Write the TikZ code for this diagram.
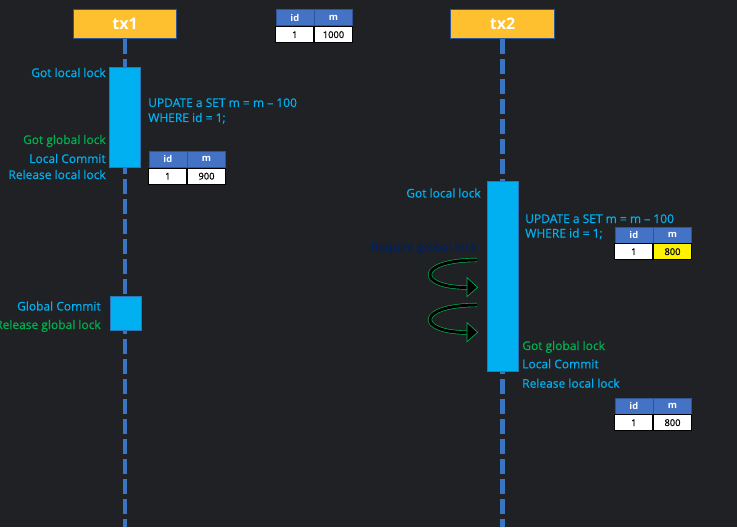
\documentclass[tikz,border=0pt]{standalone}
\usepackage{fontspec}
\setmainfont{Open Sans}
\newfontfamily\lblfont{Open Sans}[FakeBold=0.6, Ligatures=TeX]
\usepackage{xcolor}
\usetikzlibrary{arrows.meta,positioning,calc}

\definecolor{bgdark}{RGB}{32,33,36}
\definecolor{txorange}{RGB}{255,192,47}
\definecolor{txborder}{RGB}{47,85,151}
\definecolor{lifeblue}{RGB}{58,117,196}
\definecolor{barcyan}{RGB}{0,176,240}
\definecolor{barborder}{RGB}{46,117,182}
\definecolor{okgreen}{RGB}{0,176,80}
\definecolor{navytext}{RGB}{0,32,96}
\definecolor{headblue}{RGB}{68,114,196}

\tikzset{
  txbox/.style={draw=txborder, fill=txorange, line width=0.75pt, minimum width=77.5pt, minimum height=21.75pt,
    text=white, font=\fontsize{12}{14}\selectfont\bfseries, inner sep=0pt},
  lifeline/.style={draw=lifeblue, line width=3.4pt, dash pattern=on 11.25pt off 3.75pt},
  actbar/.style={draw=barborder, fill=barcyan, line width=0.75pt},
  cyanlbl/.style={text=barcyan, font=\lblfont\fontsize{9}{11}\selectfont, inner sep=0pt},
  greenlbl/.style={cyanlbl, text=okgreen},
  thead/.style={draw=txborder, fill=headblue, text=white, font=\fontsize{7}{8}\selectfont\bfseries,
    minimum width=28.5pt, minimum height=12pt, inner sep=0pt, line width=0.5pt},
  tcell/.style={draw=black, fill=white, text=black, font=\lblfont\fontsize{7}{8}\selectfont,
    minimum width=28.5pt, minimum height=12pt, inner sep=0pt, line width=0.75pt},
  spinarrow/.style={draw=okgreen, double=black, double distance=2.2pt, line width=0.5pt},
}

% 两行两列的小表：名字, x, y, m 的值, 底色
\newcommand{\rowtable}[5]{%
  \node[thead, anchor=north west] (#1id) at (#2,#3) {id};
  \node[thead, anchor=north west] (#1m) at (#1id.north east) {m};
  \node[tcell, anchor=north] (#1one) at (#1id.south) {1};
  \node[tcell, anchor=north, fill=#5] (#1val) at (#1m.south) {#4};
}

\begin{document}
\begin{tikzpicture}[x=0.75pt, y=-0.75pt]
    % 背景
    \fill[bgdark] (0,0) rectangle (737,527);
    \useasboundingbox (0,0) rectangle (737,527);

    % 两个事务和生命线
    \node[txbox] (tx1) at (125,23.8) {tx1};
    \node[txbox] (tx2) at (502.5,23.8) {tx2};
    \coordinate (end1) at (125,527);
    \coordinate (end2) at (502.5,527);
    \draw[lifeline] (tx1.south) -- (end1);
    \draw[lifeline] (tx2.south) -- (end2);

    % 初始数据
    \rowtable{tinit}{275.5}{9.5}{1000}{white}

    % tx1 的本地事务
    \draw[actbar] (109.5,67.3) rectangle (140.7,167.3);
    \node[cyanlbl, anchor=base east] (lockA) at (106,77) {Got local lock};
    \node[greenlbl, anchor=base east] (globA) at (106,144) {Got global lock};
    \node[cyanlbl, anchor=base east] (commitA) at (106,163) {Local Commit};
    \node[cyanlbl, anchor=base east] (releaseA) at (106,179) {Release local lock};
    \node[cyanlbl, anchor=base west] (sqlA) at (148,107) {UPDATE a SET m = m -- 100};
    \node[cyanlbl, anchor=base west] (whereA) at (148,122) {WHERE id = 1;};
    \rowtable{tone}{148.5}{151}{900}{white}

    % tx1 全局提交
    \draw[actbar] (110,296.7) rectangle (141.5,330.7);
    \node[cyanlbl, anchor=base east] (gcommitA) at (101,310.5) {Global Commit};
    \node[greenlbl, anchor=base east] (greleaseA) at (101,329) {Release global lock};

    % tx2 的本地事务
    \draw[actbar] (487.3,181.7) rectangle (518.7,371.7);
    \node[cyanlbl, anchor=base east] (lockB) at (481,197.5) {Got local lock};
    \node[cyanlbl, anchor=base west] (sqlB) at (525,223) {UPDATE a SET m = m -- 100};
    \node[cyanlbl, anchor=base west] (whereB) at (525,237.5) {WHERE id = 1;};
    \rowtable{ttwo}{614.5}{226.5}{800}{yellow}

    % 等待全局锁
    \node[cyanlbl, text=navytext, anchor=base east] (waitB) at (477,251) {Require global lock};
    \foreach \dy in {0,45} {
        \draw[spinarrow] (477,260+\dy) .. controls (416,260+\dy) and (416,287.5+\dy) .. (467,287.5+\dy);
        \filldraw[draw=okgreen, fill=black, line width=0.5pt] (467,277.7+\dy) -- (477.7,287.3+\dy) -- (467,296.7+\dy) -- cycle;
    }

    \node[greenlbl, anchor=base west] (globB) at (522,350) {Got global lock};
    \node[cyanlbl, anchor=base west] (commitB) at (522,368.3) {Local Commit};
    \node[cyanlbl, anchor=base west] (releaseB) at (522,387.7) {Release local lock};
    \rowtable{tfinal}{614.5}{397.5}{800}{white}
\end{tikzpicture}
\end{document}
